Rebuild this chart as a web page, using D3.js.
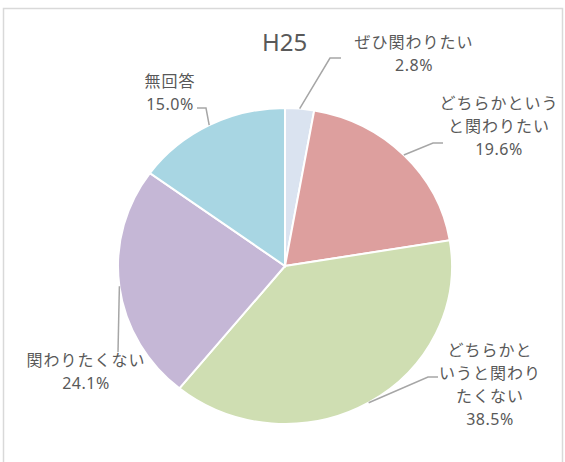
<!DOCTYPE html>
<html>
<head>
<meta charset="utf-8">
<script src="https://cdn.jsdelivr.net/npm/d3@7"></script>
<style>
  body { margin: 0; background: #fff; }
  text { font-family: "Noto Sans CJK JP", "Noto Sans", sans-serif; fill: #595959; }
</style>
</head>
<body>
<svg width="565" height="462"></svg>
<script>
var categories = ["ぜひ関わりたい", "どちらかというと関わりたい", "どちらかというと関わりたくない", "関わりたくない", "無回答"];
var values = [2.8, 19.6, 38.5, 24.1, 15.0];
var colors = ["#dae3f0", "#dd9f9e", "#cfdeb2", "#c5b7d6", "#a8d6e3"];

// label layout: wrapped lines, first line centre, leader elbow and end
var labelLines = [
  ["ぜひ関わりたい"],
  ["どちらかという", "と関わりたい"],
  ["どちらかと", "いうと関わり", "たくない"],
  ["関わりたくない"],
  ["無回答"]
];
var labelPos = [
  {x: 414, y: 42, elbow: [330, 58], end: [341, 58]},
  {x: 499, y: 103, elbow: [433, 143], end: [443, 143]},
  {x: 490, y: 350, elbow: [428, 377], end: [438, 377]},
  {x: 86, y: 360, elbow: [118, 352], end: [118, 352]},
  {x: 170, y: 81, elbow: [206, 108], end: [197, 108]}
];

var svg = d3.select("svg");
var cx = 285, cy = 266, rx = 167, ry = 158;

// chart border
svg.append("rect")
  .attr("x", 3.5).attr("y", 8.5)
  .attr("width", 559).attr("height", 470)
  .attr("fill", "none")
  .attr("stroke", "#d9d9d9")
  .attr("stroke-width", 1.5);

svg.append("text")
  .attr("x", 262).attr("y", 51)
  .style("font-size", "24px")
  .style("font-family", "'Noto Sans', sans-serif")
  .text("H25");

var pie = d3.pie().sort(null).value(function(d){return d;});
var arcs = pie(values);
var arc = d3.arc().innerRadius(0).outerRadius(ry);

var g = svg.append("g")
  .attr("transform", "translate(" + cx + "," + cy + ") scale(" + (rx / ry) + ",1)");

g.selectAll("path")
  .data(arcs)
  .enter()
  .append("path")
  .attr("d", arc)
  .attr("fill", function(d, i){return colors[i];})
  .attr("stroke", "#fff")
  .attr("stroke-width", 2)
  .attr("vector-effect", "non-scaling-stroke");

// leader lines
arcs.forEach(function(d, i){
  var a = (d.startAngle + d.endAngle) / 2;
  var sx = cx + rx * Math.sin(a), sy = cy - ry * Math.cos(a);
  var p = labelPos[i];
  svg.append("polyline")
    .attr("points", [[sx, sy], p.elbow, p.end].map(function(q){return q.join(",");}).join(" "))
    .attr("fill", "none")
    .attr("stroke", "#a6a6a6")
    .attr("stroke-width", 1.5);
});

// labels
arcs.forEach(function(d, i){
  var p = labelPos[i];
  var lines = labelLines[i].concat([values[i].toFixed(1) + "%"]);
  var t = svg.append("text")
    .attr("text-anchor", "middle")
    .style("font-size", "16px");
  lines.forEach(function(s, j){
    var last = j === lines.length - 1;
    t.append("tspan")
      .attr("x", p.x)
      .attr("y", p.y + j * 23)
      .attr("dy", "0.35em")
      .style("font-family", last ? "'Noto Sans', sans-serif" : null)
      .style("letter-spacing", last ? "0.5px" : "1px")
      .text(s);
  });
});
</script>
</body>
</html>
